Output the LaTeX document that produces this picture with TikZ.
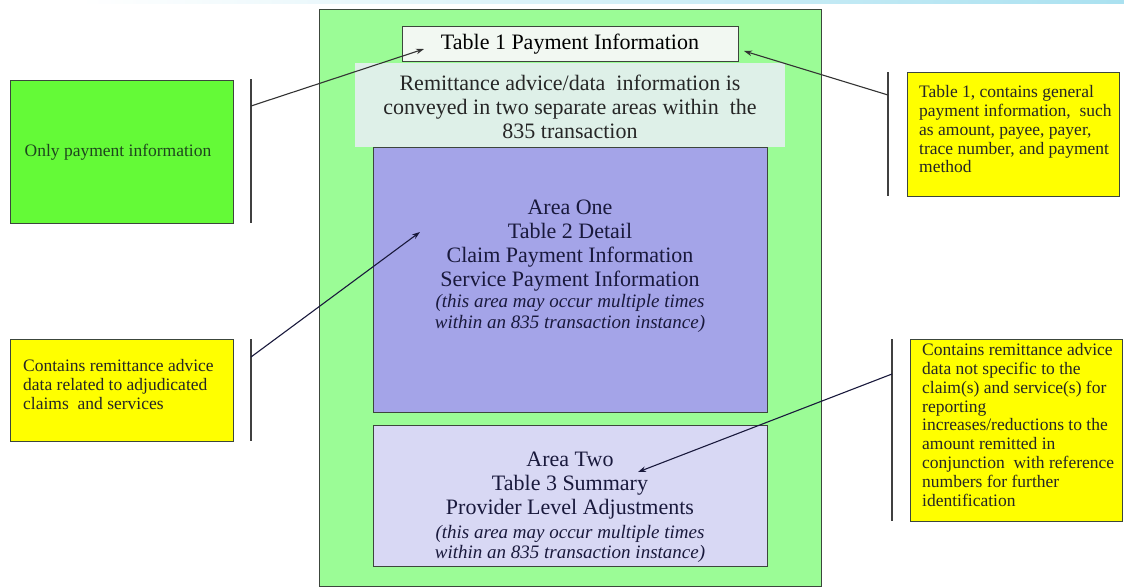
\documentclass[tikz,border=0pt]{standalone}
\usepackage{fontspec}
\setmainfont{Liberation Serif}
\usetikzlibrary{arrows.meta}
\definecolor{outergreen}{RGB}{155,252,150}
\definecolor{tabfill}{RGB}{242,248,242}
\definecolor{panelfill}{RGB}{222,240,232}
\definecolor{areaone}{RGB}{164,164,232}
\definecolor{areatwo}{RGB}{216,216,244}
\definecolor{brightgreen}{RGB}{100,250,55}
\definecolor{boxyellow}{RGB}{255,255,0}
\definecolor{edgecol}{RGB}{60,70,60}
\definecolor{navytext}{RGB}{25,25,60}
\definecolor{greentext}{RGB}{30,70,30}
\definecolor{headblue}{RGB}{170,225,240}
\tikzset{
  box/.style={draw=edgecol, line width=1pt, inner sep=0pt, anchor=center},
  sidetext/.style={align=left, anchor=north west, inner sep=0pt, font=\fontsize{17.5}{18.9}\selectfont},
  maintext/.style={align=center, inner sep=0pt, font=\fontsize{22}{24}\selectfont},
  ittext/.style={align=center, inner sep=0pt, font=\fontsize{19}{20.5}\selectfont\itshape},
  bracket/.style={draw=black!75, line width=1.1pt},
  conn/.style={draw=black!80, line width=1.1pt, -{Stealth[length=8pt,width=5.5pt]}}
}
\begin{document}
\begin{tikzpicture}[x=1pt,y=-1pt]
\useasboundingbox (0,0) rectangle (1124,587);
\fill[white] (0,0) rectangle (1124,587);
% faint header strip
\shade[left color=white, right color=headblue] (80,0) rectangle (1124,3);

% main container
\node[box, fill=outergreen, minimum width=502pt, minimum height=577pt] (outer) at (570,297.5) {};
\node[box, fill=tabfill, minimum width=336pt, minimum height=35pt] (t1) at (570,43.5) {};
\node[maintext] (t1txt) at (570,44) {Table 1 Payment Information};
\node[fill=panelfill, inner sep=0pt, minimum width=430pt, minimum height=84pt] (panel) at (570,105) {};
\node[maintext, text=black!85] (paneltxt) at (570,107) {Remittance advice/data\ \ information is\\conveyed in two separate areas within\ \ the\\835 transaction};

\node[box, fill=areaone, minimum width=394pt, minimum height=265pt] (a1) at (570,279.5) {};
\node[maintext, text=navytext] (a1txt) at (570,245.5) {Area One\\Table 2 Detail\\Claim Payment Information\\Service Payment Information};
\node[ittext, text=navytext] (a1it) at (570,313.5) {(this area may occur multiple times\\within an 835 transaction instance)};

\node[box, fill=areatwo, minimum width=394pt, minimum height=141pt] (a2) at (570,495.5) {};
\node[maintext, text=navytext] (a2txt) at (570,486) {Area Two\\Table 3 Summary\\Provider Level\ Adjustments};
\node[ittext, text=navytext] (a2it) at (570,544) {(this area may occur multiple times\\within an 835 transaction instance)};

% side boxes
\node[box, fill=brightgreen, minimum width=223pt, minimum height=143pt] (lg) at (121.5,151.5) {};
\node[anchor=center, inner sep=0pt, text=greentext, font=\fontsize{17.5}{18.9}\selectfont] (lgtxt) at (118,152) {Only payment information};

\node[box, fill=boxyellow, minimum width=223pt, minimum height=102pt] (ly) at (121.5,390) {};
\node[sidetext, text=black!85] (lytxt) at (23,359) {Contains remittance advice\\data related to adjudicated\\claims\ \ and services};

\node[box, fill=boxyellow, minimum width=212pt, minimum height=124pt] (ry1) at (1013,134) {};
\node[sidetext, text=black!85] (ry1txt) at (919,85) {Table 1, contains general\\payment information,\ \ such\\as amount, payee, payer,\\trace number, and payment\\method};

\node[box, fill=boxyellow, minimum width=212pt, minimum height=182pt] (ry2) at (1016,430) {};
\node[sidetext, text=black!85] (ry2txt) at (922,343) {Contains remittance advice\\data not specific to the\\claim(s) and service(s) for\\reporting\\increases/reductions to the\\amount remitted in\\conjunction\ \ with reference\\numbers for further\\identification};

% bracket lines
\coordinate (b1top) at (251,79); \coordinate (b1bot) at (251,223);
\coordinate (b2top) at (251,339); \coordinate (b2bot) at (251,441);
\coordinate (b3top) at (888,72); \coordinate (b3bot) at (888,196);
\coordinate (b4top) at (892,339); \coordinate (b4bot) at (892,521);
\draw[bracket] (b1top) -- (b1bot);
\draw[bracket] (b2top) -- (b2bot);
\draw[bracket] (b3top) -- (b3bot);
\draw[bracket] (b4top) -- (b4bot);

% connector ends
\coordinate (s1) at (251,106); \coordinate (e1) at (424,49);
\coordinate (s2) at (888,95);  \coordinate (e2) at (744,51);
\coordinate (s3) at (251,357); \coordinate (e3) at (420,232);
\coordinate (s4) at (892,374); \coordinate (e4) at (638,472);
\draw[conn] (s1) -- (e1);
\draw[conn] (s2) -- (e2);
\draw[conn, draw=navytext] (s3) -- (e3);
\draw[conn, draw=navytext] (s4) -- (e4);
\end{tikzpicture}
\end{document}
